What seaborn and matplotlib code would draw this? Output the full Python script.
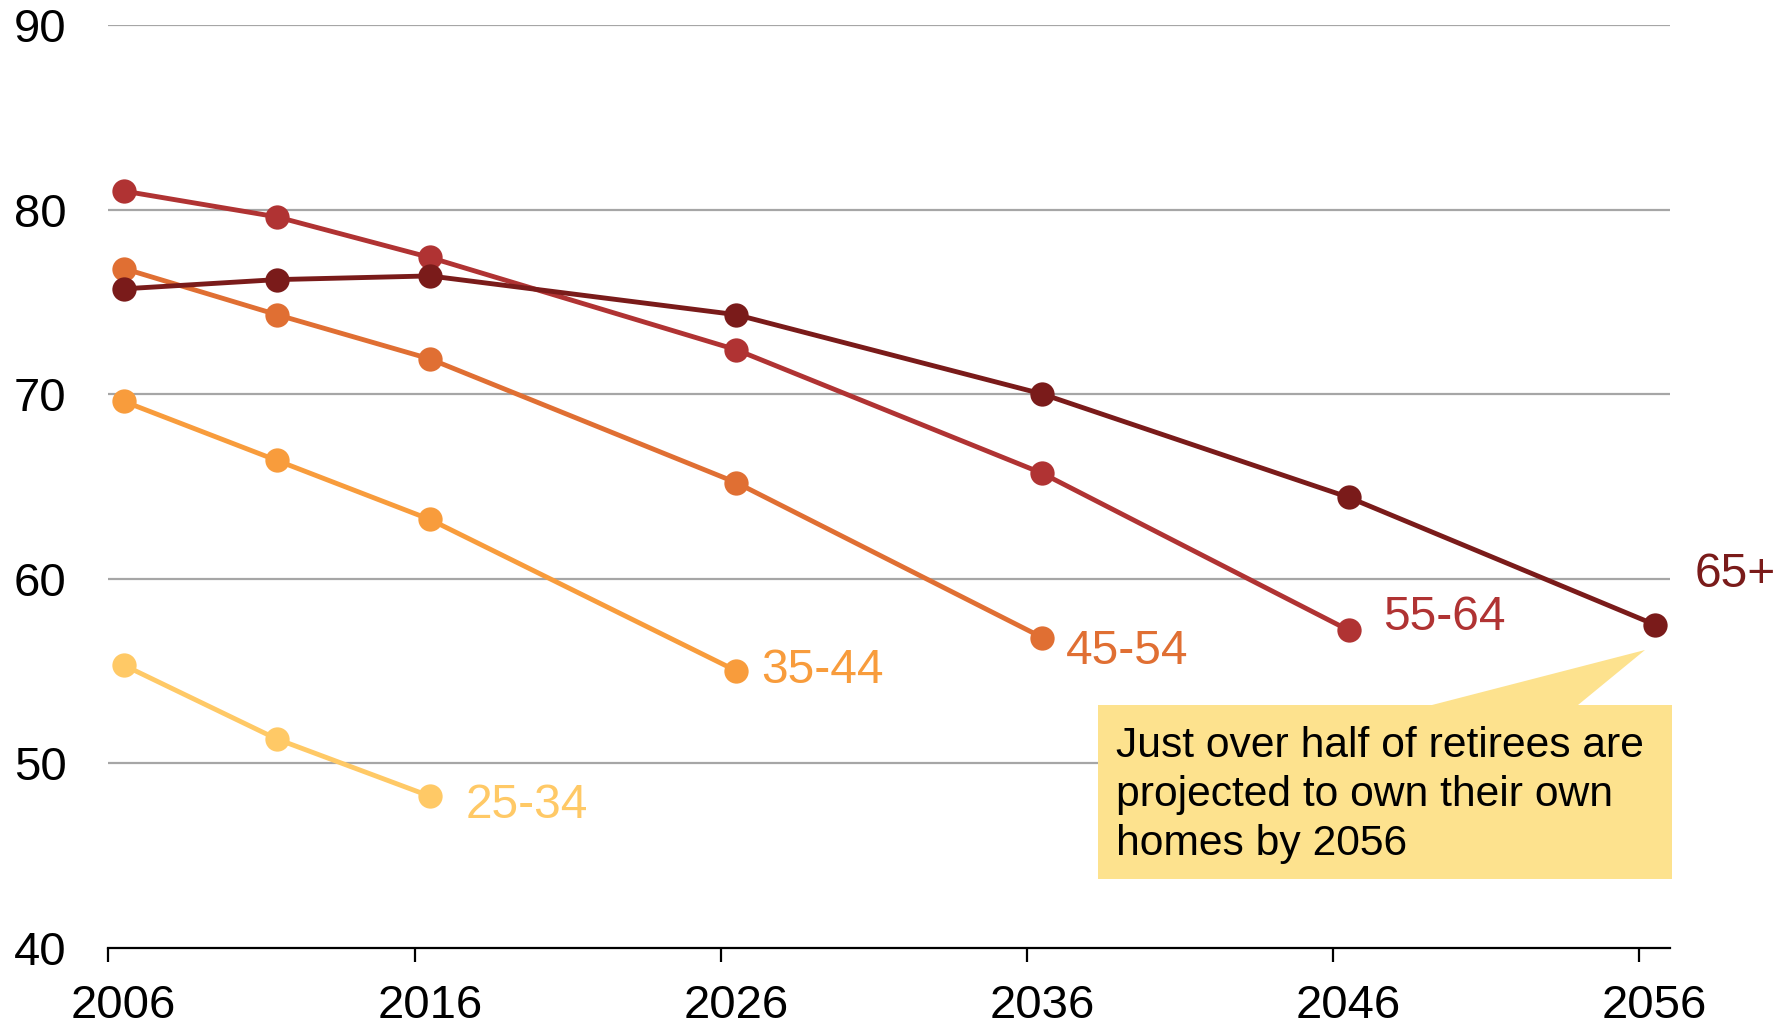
import matplotlib
matplotlib.use("Agg")
import matplotlib.pyplot as plt
from matplotlib.patches import Polygon
import numpy as np
import pandas as pd
import seaborn as sns

# Home ownership rate (%) by age group, census years and projections
years = [2006, 2011, 2016, 2026, 2036, 2046, 2056]
groups = ["25-34", "35-44", "45-54", "55-64", "65+"]
rate_25_34 = [55.3, 51.3, 48.2]
rate_35_44 = [69.6, 66.4, 63.2, 55.0]
rate_45_54 = [76.8, 74.3, 71.9, 65.2, 56.8]
rate_55_64 = [81.0, 79.6, 77.4, 72.4, 65.7, 57.2]
rate_65_plus = [75.7, 76.2, 76.4, 74.3, 70.0, 64.4, 57.5]
colors = ["#FFC966", "#F89C3C", "#E06F33", "#B03333", "#7A1B1A"]
x_ticks = [2006, 2016, 2026, 2036, 2046, 2056]
y_ticks = [40, 50, 60, 70, 80, 90]
note = "Just over half of retirees are\nprojected to own their own\nhomes by 2056"

series = [rate_25_34, rate_35_44, rate_45_54, rate_55_64, rate_65_plus]
rows = []
for g, vals in zip(groups, series):
    for yr, v in zip(years, vals):
        rows.append({"year": yr, "rate": v, "group": g})
df = pd.DataFrame(rows)

sns.set_style("white")
plt.rcParams["font.family"] = ["Liberation Sans", "DejaVu Sans"]

fig = plt.figure(figsize=(17.9, 10.29), dpi=100)
ax = fig.add_axes([0.0606, 0.0792, 0.8724, 0.8965])

for y in y_ticks[1:]:
    ax.axhline(y, color="#A6A6A6", lw=1.6, zorder=0)

sns.lineplot(data=df, x="year", y="rate", hue="group", hue_order=groups,
             palette=colors, marker="o", markersize=17.5, markeredgewidth=0,
             linewidth=3.5, legend=False, ax=ax, zorder=3)

ax.set_xlim(2005.5, 2056.5)
ax.set_ylim(40, 90)

# year labels sit under the points; tick marks sit half a year earlier
ax.set_xticks(x_ticks)
ax.set_xticklabels([str(t) for t in x_ticks])
ax.set_xticks([t - 0.5 for t in x_ticks], minor=True)
ax.tick_params(axis="x", which="major", length=0, pad=26, labelsize=34,
               labelcolor="black")
ax.tick_params(axis="x", which="minor", length=10, width=1.6, color="black",
               direction="out", bottom=True)
ax.set_yticks(y_ticks)
ax.tick_params(axis="y", length=0, pad=68, labelsize=34, labelcolor="black")
for lbl in ax.get_yticklabels():
    lbl.set_horizontalalignment("left")
ax.set_xlabel("")
ax.set_ylabel("")

for side in ["top", "right", "left"]:
    ax.spines[side].set_visible(False)
ax.spines["bottom"].set_color("black")
ax.spines["bottom"].set_linewidth(1.6)

# end-of-line group labels
offsets = [(26, -6.5), (18, 0), (17, -10), (25, 9), (29, 36)]
for g, vals, c, off in zip(groups, series, colors, offsets):
    ax.annotate(g, xy=(years[len(vals) - 1], vals[-1]), xytext=off,
                textcoords="offset points", ha="left", va="center",
                fontsize=34.5, color=c)

# callout box with pointer toward the 2056 retiree figure
W, H = 1790, 1029
def f(px, py):
    return (px / W, 1 - py / H)
box = [f(1098, 705), f(1432, 705), f(1645, 650), f(1578, 705), f(1672, 705),
       f(1672, 879), f(1098, 879)]
fig.patches.append(Polygon(box, closed=True, transform=fig.transFigure,
                           facecolor="#FDE28E", edgecolor="none", zorder=5))
fig.text(1116 / W, 1 - 795 / H, note, ha="left", va="center", fontsize=30.7,
         linespacing=1.3, color="black", zorder=6)

fig.savefig("out.png", dpi=100, facecolor="white")
